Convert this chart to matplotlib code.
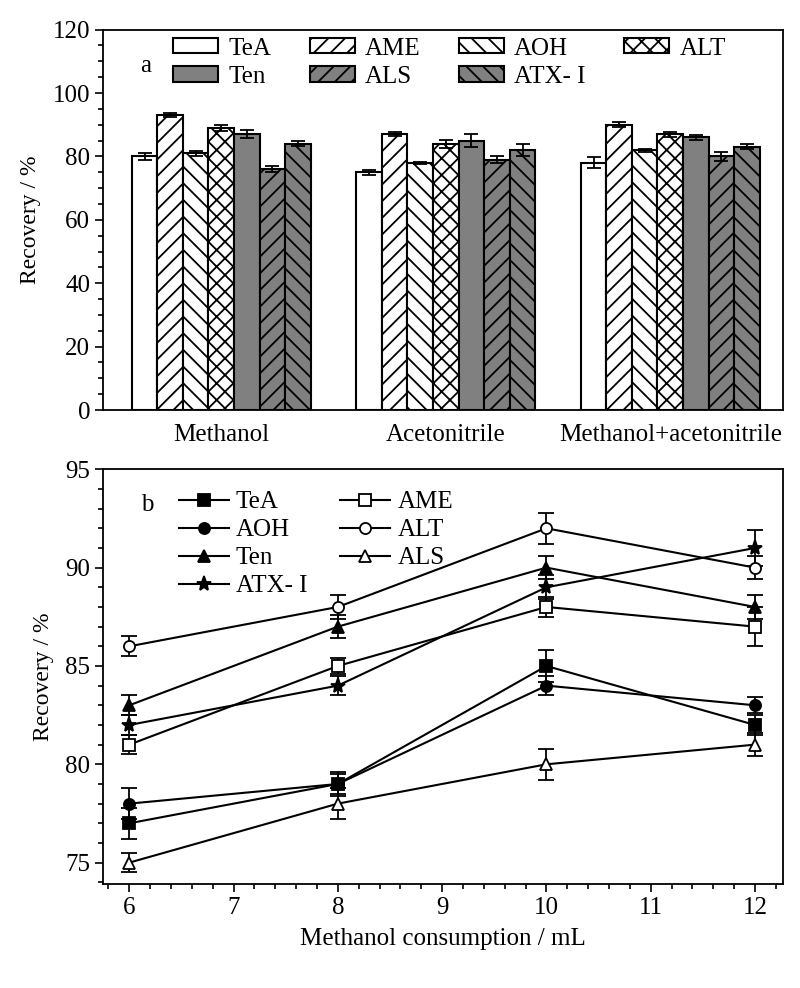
import matplotlib
matplotlib.use('Agg')
import matplotlib.pyplot as plt
from matplotlib.ticker import MultipleLocator
import numpy as np

plt.rcParams['font.family'] = ['Liberation Serif', 'DejaVu Serif']
plt.rcParams['font.size'] = 18
plt.rcParams['hatch.linewidth'] = 1.3
plt.rcParams['axes.linewidth'] = 1.3

# panel a: recovery by extraction solvent
solvents = ['Methanol', 'Acetonitrile', 'Methanol+acetonitrile']
toxins = ['TeA', 'AME', 'AOH', 'ALT', 'Ten', 'ALS', 'ATX- I']
bar_vals = {
    'TeA':    [80, 75, 78],
    'AME':    [93, 87, 90],
    'AOH':    [81, 78, 82],
    'ALT':    [89, 84, 87],
    'Ten':    [87, 85, 86],
    'ALS':    [76, 79, 80],
    'ATX- I': [84, 82, 83],
}
bar_err = {
    'TeA':    [1.0, 0.7, 1.8],
    'AME':    [0.7, 0.6, 0.8],
    'AOH':    [0.8, 0.3, 0.5],
    'ALT':    [1.0, 1.2, 0.8],
    'Ten':    [1.3, 2.0, 0.7],
    'ALS':    [1.0, 1.0, 1.3],
    'ATX- I': [0.8, 1.8, 0.8],
}
bar_fill = {'TeA': 'white', 'AME': 'white', 'AOH': 'white', 'ALT': 'white',
            'Ten': '#808080', 'ALS': '#808080', 'ATX- I': '#808080'}
bar_hatch = {'TeA': '', 'AME': '//', 'AOH': '\\\\', 'ALT': 'xx',
             'Ten': '', 'ALS': '//', 'ATX- I': '\\\\'}

# panel b: recovery vs methanol volume
volume = [6, 8, 10, 12]
line_vals = {
    'TeA':    [77, 79, 85, 82],
    'AME':    [81, 85, 88, 87],
    'AOH':    [78, 79, 84, 83],
    'ALT':    [86, 88, 92, 90],
    'Ten':    [83, 87, 90, 88],
    'ALS':    [75, 78, 80, 81],
    'ATX- I': [82, 84, 89, 91],
}
line_err = {
    'TeA':    [0.8, 0.6, 0.8, 0.5],
    'AME':    [0.5, 0.4, 0.5, 1.0],
    'AOH':    [0.8, 0.5, 0.5, 0.4],
    'ALT':    [0.5, 0.6, 0.8, 0.6],
    'Ten':    [0.5, 0.6, 0.6, 0.6],
    'ALS':    [0.5, 0.8, 0.8, 0.6],
    'ATX- I': [0.5, 0.5, 0.6, 0.9],
}
line_marker = {'TeA': ('s', 'black'), 'AME': ('s', 'white'),
               'AOH': ('o', 'black'), 'ALT': ('o', 'white'),
               'Ten': ('^', 'black'), 'ALS': ('^', 'white'),
               'ATX- I': ('*', 'black')}

fig = plt.figure(figsize=(8, 9.88), dpi=100)
ax1 = fig.add_axes([0.129, 0.585, 0.850, 0.385])
ax2 = fig.add_axes([0.129, 0.105, 0.850, 0.420])

# --- panel a
x = np.arange(1, len(solvents) + 1)
w = 0.114
bars = {}
for i, t in enumerate(toxins):
    bars[t] = ax1.bar(x + (i - 3) * w, bar_vals[t], w, yerr=bar_err[t],
                      color=bar_fill[t], hatch=bar_hatch[t], edgecolor='black',
                      linewidth=1.5, capsize=5,
                      error_kw=dict(elinewidth=1.3, capthick=1.3, ecolor='black'))
ax1.set_xlim(0.474, 3.503)
ax1.set_ylim(0, 120)
ax1.set_xticks(x)
ax1.set_xticklabels(solvents)
ax1.tick_params(axis='x', length=0, pad=10)
ax1.yaxis.set_major_locator(MultipleLocator(20))
ax1.yaxis.set_minor_locator(MultipleLocator(5))
ax1.tick_params(axis='y', which='major', length=6, width=1.2)
ax1.tick_params(axis='y', which='minor', length=3.5, width=1.2)
ax1.set_ylabel('Recovery / %', fontsize=17, labelpad=8)
ax1.text(0.055, 0.905, 'a', transform=ax1.transAxes, fontsize=18, va='center')
order_a = ['TeA', 'Ten', 'AME', 'ALS', 'AOH', 'ATX- I', 'ALT']
ax1.legend([bars[t] for t in order_a], order_a, ncol=4, frameon=False,
           loc='upper left', bbox_to_anchor=(0.077, 1.025), handlelength=1.8,
           handleheight=0.56, labelspacing=0.25, columnspacing=1.55,
           handletextpad=0.4, borderaxespad=0.3)

# --- panel b
handles = {}
for t in toxins:
    m, fc = line_marker[t]
    ms = 11 if m == '*' else 8
    handles[t] = ax2.errorbar(volume, line_vals[t], yerr=line_err[t], color='black',
                              marker=m, markerfacecolor=fc, markeredgecolor='black',
                              markeredgewidth=1.3, markersize=ms, linewidth=1.5,
                              capsize=6, capthick=1.3, elinewidth=1.3)
ax2.set_xlim(5.75, 12.27)
ax2.set_ylim(73.9, 95)
ax2.xaxis.set_major_locator(MultipleLocator(1))
ax2.xaxis.set_minor_locator(MultipleLocator(0.2))
ax2.yaxis.set_major_locator(MultipleLocator(5))
ax2.yaxis.set_minor_locator(MultipleLocator(1))
ax2.tick_params(which='major', length=6, width=1.2)
ax2.tick_params(which='minor', length=3.5, width=1.2)
ax2.set_xlabel('Methanol consumption / mL', labelpad=6)
ax2.set_ylabel('Recovery / %', fontsize=17, labelpad=8)
ax2.text(0.055, 0.915, 'b', transform=ax2.transAxes, fontsize=18, va='center')
order_b = ['TeA', 'AOH', 'Ten', 'ATX- I', 'AME', 'ALT', 'ALS']
ax2.legend([handles[t][0] for t in order_b], order_b, ncol=2, frameon=False,
           loc='upper left', bbox_to_anchor=(0.085, 0.99), handlelength=2.0,
           labelspacing=0.22, columnspacing=1.3, handletextpad=0.3,
           borderaxespad=0.3)

fig.savefig('out.png', dpi=100)
